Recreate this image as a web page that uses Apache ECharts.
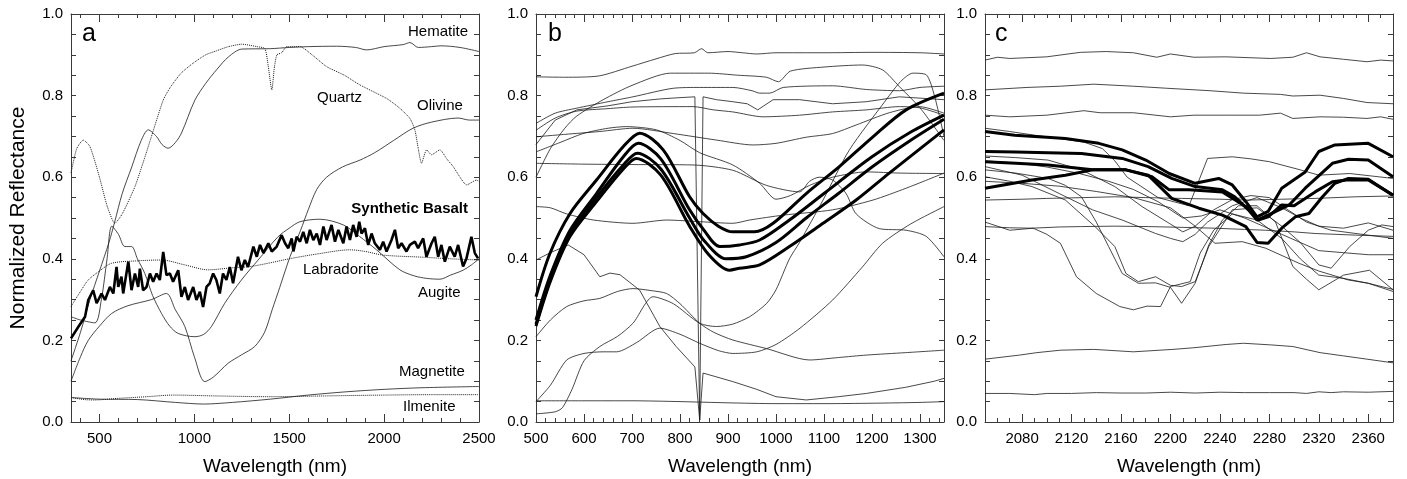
<!DOCTYPE html>
<html><head><meta charset="utf-8">
<script src="https://cdn.jsdelivr.net/npm/echarts@6/dist/echarts.min.js"></script>
<style>html,body{margin:0;padding:0;background:#fff}#chart{width:1407px;height:479px}</style>
</head><body><div id="chart"></div>
<script>
// ---------- tick labels ----------
const aTickLabels = [500, 1000, 1500, 2000, 2500];
const bTickLabels = [500, 600, 700, 800, 900, 1000, 1100, 1200, 1300];
const cTickLabels = [2080, 2120, 2160, 2200, 2240, 2280, 2320, 2360];
const yTickLabels = [0, 0.2, 0.4, 0.6, 0.8, 1.0];

// ---------- panel a ----------
const hematite = [[350,0.15],[400,0.22],[450,0.30],[500,0.37],[550,0.44],[580,0.49],[620,0.56],[670,0.625],[720,0.69],[757,0.716],[800,0.70],[830,0.68],[862,0.671],[900,0.685],[932,0.708],[1003,0.789],[1060,0.83],[1120,0.865],[1180,0.895],[1250,0.914],[1400,0.915],[1500,0.918],[1600,0.92],[1750,0.921],[1850,0.918],[1908,0.912],[2000,0.92],[2100,0.925],[2136,0.93],[2180,0.918],[2250,0.92],[2300,0.922],[2400,0.918],[2500,0.908]];
const quartz = [[350,0.61],[380,0.67],[415,0.691],[450,0.675],[500,0.60],[540,0.53],[581,0.487],[620,0.51],[687,0.577],[740,0.65],[774,0.70],[836,0.789],[873,0.82],[930,0.855],[995,0.88],[1060,0.90],[1118,0.91],[1180,0.92],[1250,0.926],[1330,0.92],[1372,0.915],[1390,0.87],[1408,0.814],[1422,0.87],[1435,0.90],[1460,0.905],[1487,0.92],[1557,0.92],[1620,0.90],[1697,0.871],[1790,0.85],[1873,0.826],[2013,0.793],[2080,0.77],[2136,0.744],[2162,0.716],[2180,0.67],[2197,0.634],[2224,0.667],[2250,0.655],[2294,0.667],[2330,0.645],[2364,0.626],[2400,0.60],[2434,0.581],[2487,0.593],[2500,0.59]];
const olivine = [[350,0.10],[400,0.16],[441,0.20],[500,0.235],[564,0.266],[650,0.285],[774,0.30],[853,0.315],[900,0.275],[950,0.234],[1000,0.16],[1055,0.099],[1100,0.11],[1178,0.144],[1250,0.165],[1318,0.185],[1370,0.22],[1410,0.275],[1450,0.33],[1504,0.405],[1560,0.47],[1600,0.52],[1645,0.57],[1697,0.60],[1780,0.625],[1873,0.642],[1950,0.66],[2050,0.69],[2152,0.72],[2250,0.735],[2390,0.745],[2450,0.74],[2500,0.74]];
const augite = [[350,0.258],[400,0.25],[476,0.243],[510,0.30],[540,0.40],[565,0.48],[600,0.46],[634,0.43],[669,0.43],[700,0.40],[739,0.364],[780,0.31],[827,0.266],[870,0.235],[915,0.217],[1003,0.209],[1050,0.215],[1090,0.234],[1160,0.291],[1248,0.348],[1336,0.397],[1441,0.454],[1500,0.475],[1557,0.491],[1662,0.497],[1785,0.483],[1870,0.455],[1960,0.422],[2083,0.373],[2160,0.358],[2224,0.352],[2294,0.35],[2350,0.36],[2416,0.372],[2460,0.385],[2500,0.40]];
const labradorite = [[350,0.283],[400,0.32],[441,0.348],[500,0.37],[564,0.389],[700,0.395],[827,0.397],[950,0.385],[1072,0.373],[1200,0.378],[1293,0.381],[1388,0.389],[1500,0.40],[1650,0.412],[1820,0.422],[1900,0.418],[1995,0.409],[2200,0.404],[2350,0.40],[2500,0.397]];
const magnetite = [[350,0.06],[500,0.056],[700,0.055],[900,0.048],[1050,0.044],[1200,0.048],[1400,0.056],[1600,0.066],[1800,0.074],[2000,0.08],[2200,0.084],[2500,0.087]];
const ilmenite = [[350,0.06],[420,0.055],[470,0.054],[600,0.058],[750,0.062],[890,0.066],[1100,0.064],[1400,0.062],[1700,0.064],[2000,0.066],[2250,0.067],[2500,0.067]];
const basalt = [[350,0.205],[388,0.233],[424,0.258],[441,0.299],[467,0.323],[485,0.291],[511,0.315],[529,0.299],[555,0.331],[573,0.315],[590,0.38],[599,0.331],[616,0.356],[625,0.315],[652,0.393],[669,0.323],[687,0.364],[704,0.331],[713,0.376],[730,0.323],[748,0.331],[766,0.364],[783,0.344],[801,0.364],[818,0.348],[836,0.417],[853,0.36],[871,0.364],[888,0.344],[915,0.372],[932,0.307],[950,0.331],[967,0.299],[994,0.331],[1011,0.299],[1029,0.319],[1046,0.282],[1064,0.331],[1081,0.34],[1099,0.364],[1116,0.348],[1134,0.315],[1151,0.364],[1169,0.348],[1187,0.38],[1204,0.34],[1230,0.405],[1248,0.372],[1266,0.397],[1283,0.38],[1311,0.43],[1329,0.405],[1346,0.434],[1364,0.414],[1390,0.438],[1408,0.418],[1434,0.43],[1460,0.458],[1478,0.438],[1495,0.426],[1513,0.45],[1522,0.418],[1539,0.454],[1557,0.442],[1574,0.466],[1592,0.438],[1609,0.471],[1627,0.446],[1645,0.462],[1662,0.434],[1680,0.479],[1697,0.446],[1723,0.483],[1741,0.442],[1759,0.471],[1785,0.438],[1802,0.479],[1820,0.446],[1837,0.483],[1855,0.454],[1869,0.491],[1881,0.462],[1899,0.475],[1916,0.434],[1934,0.462],[1951,0.438],[1978,0.422],[1995,0.442],[2013,0.418],[2039,0.446],[2057,0.471],[2074,0.426],[2092,0.438],[2118,0.418],[2136,0.434],[2162,0.442],[2179,0.426],[2206,0.45],[2223,0.405],[2250,0.438],[2267,0.454],[2285,0.405],[2302,0.434],[2320,0.393],[2346,0.43],[2372,0.405],[2390,0.434],[2416,0.381],[2434,0.401],[2460,0.454],[2478,0.414],[2495,0.401]];

// ---------- panel b ----------
const bL1 = [[500,0.846],[560,0.845],[630,0.848],[700,0.872],[750,0.89],[790,0.903],[830,0.905],[845,0.915],[858,0.905],[900,0.908],[930,0.905],[960,0.902],[1000,0.905],[1100,0.905],[1200,0.906],[1300,0.905],[1350,0.902]];
const bL2 = [[500,0.60],[530,0.67],[560,0.72],[585,0.75],[640,0.79],[700,0.825],[780,0.855],[860,0.855],[920,0.85],[980,0.845],[1005,0.834],[1030,0.86],[1100,0.87],[1180,0.875],[1222,0.863],[1257,0.822],[1300,0.77],[1350,0.69]];
const bL3 = [[500,0.732],[540,0.757],[584,0.769],[650,0.785],[702,0.797],[786,0.818],[841,0.82],[910,0.82],[950,0.812],[966,0.806],[987,0.806],[1015,0.82],[1118,0.824],[1188,0.815],[1257,0.812],[1300,0.82],[1350,0.823]];
const bL4 = [[500,0.68],[540,0.74],[585,0.765],[650,0.775],[700,0.785],[760,0.792],[800,0.795],[831,0.797],[841,0.005],[848,0.797],[876,0.79],[910,0.785],[940,0.78],[962,0.765],[994,0.79],[1049,0.79],[1118,0.78],[1188,0.785],[1257,0.797],[1350,0.79]];
const bL5 = [[500,0.715],[540,0.745],[585,0.762],[650,0.768],[700,0.772],[827,0.773],[870,0.765],[910,0.76],[973,0.748],[1049,0.752],[1118,0.76],[1188,0.765],[1257,0.773],[1300,0.77],[1350,0.752]];
const bL6 = [[500,0.699],[560,0.705],[633,0.712],[702,0.72],[786,0.707],[876,0.691],[952,0.679],[1000,0.683],[1063,0.698],[1118,0.707],[1167,0.728],[1236,0.758],[1299,0.773],[1350,0.757]];
const bL7 = [[500,0.662],[550,0.685],[598,0.707],[650,0.72],[688,0.724],[751,0.716],[800,0.69],[841,0.66],[910,0.63],[966,0.585],[1000,0.546],[1030,0.555],[1070,0.58],[1118,0.60],[1188,0.613],[1260,0.61],[1350,0.609]];
const bL8 = [[500,0.634],[600,0.632],[700,0.631],[827,0.63],[910,0.617],[980,0.58],[1049,0.564],[1070,0.59],[1090,0.60],[1118,0.593],[1146,0.56],[1167,0.51],[1215,0.474],[1271,0.47],[1313,0.455],[1350,0.405]];
const bL9 = [[500,0.528],[530,0.525],[564,0.51],[620,0.495],[702,0.487],[772,0.495],[841,0.491],[910,0.487],[945,0.495],[1015,0.507],[1118,0.52],[1202,0.544],[1271,0.573],[1350,0.61]];
const bL10 = [[500,0.209],[530,0.25],[564,0.283],[600,0.297],[633,0.303],[670,0.32],[702,0.327],[740,0.322],[772,0.315],[800,0.29],[841,0.242],[870,0.22],[910,0.201],[980,0.18],[1070,0.152],[1130,0.158],[1188,0.164],[1270,0.17],[1350,0.176]];
const bL11 = [[500,0.05],[530,0.09],[564,0.152],[600,0.168],[640,0.172],[668,0.172],[710,0.195],[758,0.23],[800,0.215],[841,0.193],[880,0.175],[910,0.168],[960,0.172],[1000,0.19],[1050,0.23],[1118,0.299],[1180,0.38],[1222,0.438],[1280,0.485],[1350,0.528]];
const bL12 = [[500,0.02],[540,0.025],[555,0.035],[575,0.08],[600,0.15],[633,0.185],[670,0.21],[702,0.242],[744,0.307],[786,0.29],[841,0.242],[876,0.234],[910,0.24],[945,0.258],[980,0.29],[1000,0.324],[1028,0.40],[1049,0.44],[1098,0.544],[1153,0.667],[1229,0.789],[1260,0.835],[1285,0.855],[1313,0.851],[1330,0.80],[1350,0.70]];
const bL13 = [[500,0.397],[530,0.415],[567,0.434],[600,0.41],[633,0.356],[654,0.365],[675,0.361],[716,0.323],[758,0.234],[792,0.185],[831,0.135],[841,0.005],[848,0.12],[910,0.099],[960,0.08],[1000,0.062],[1063,0.054],[1130,0.062],[1188,0.07],[1270,0.085],[1330,0.10],[1350,0.107]];
const bL14 = [[500,0.052],[600,0.052],[700,0.052],[800,0.05],[900,0.047],[1000,0.045],[1100,0.045],[1200,0.046],[1300,0.048],[1350,0.05]];
const bT1 = [[500,0.307],[529,0.413],[571,0.511],[626,0.593],[682,0.675],[716,0.708],[765,0.667],[820,0.552],[848,0.511],[880,0.48],[910,0.466],[955,0.466],[994,0.487],[1063,0.56],[1132,0.626],[1202,0.699],[1271,0.765],[1350,0.806]];
const bT2 = [[500,0.25],[530,0.36],[571,0.47],[626,0.56],[682,0.65],[713,0.683],[760,0.645],[820,0.52],[850,0.47],[883,0.43],[924,0.434],[966,0.446],[1028,0.495],[1100,0.56],[1200,0.65],[1280,0.71],[1350,0.752]];
const bT3 = [[500,0.24],[530,0.35],[571,0.46],[626,0.55],[682,0.63],[711,0.659],[760,0.62],[820,0.50],[850,0.445],[896,0.40],[938,0.405],[1000,0.44],[1063,0.50],[1130,0.56],[1200,0.625],[1280,0.69],[1350,0.742]];
const bT4 = [[500,0.235],[530,0.345],[571,0.455],[626,0.54],[682,0.62],[709,0.646],[760,0.605],[820,0.48],[860,0.41],[903,0.372],[924,0.377],[966,0.385],[1028,0.43],[1098,0.487],[1167,0.544],[1236,0.61],[1350,0.716]];

// ---------- panel c ----------
const cL1 = [[2050,0.887],[2060,0.894],[2070,0.891],[2100,0.895],[2127,0.906],[2148,0.908],[2170,0.905],[2189,0.894],[2200,0.902],[2219,0.894],[2245,0.895],[2281,0.891],[2299,0.894],[2310,0.905],[2321,0.895],[2340,0.889],[2359,0.883],[2370,0.887],[2380,0.885]];
const cL2 = [[2050,0.814],[2084,0.82],[2111,0.823],[2138,0.828],[2170,0.823],[2197,0.818],[2232,0.812],[2259,0.806],[2289,0.803],[2299,0.799],[2321,0.801],[2340,0.793],[2359,0.783],[2380,0.78]];
const cL3 = [[2050,0.752],[2070,0.748],[2100,0.752],[2130,0.763],[2143,0.758],[2170,0.758],[2200,0.748],[2219,0.752],[2245,0.752],[2272,0.752],[2289,0.757],[2299,0.744],[2321,0.748],[2340,0.747],[2359,0.744],[2370,0.748],[2380,0.742]];
const cL4 = [[2050,0.154],[2078,0.164],[2092,0.17],[2111,0.176],[2138,0.178],[2170,0.172],[2202,0.178],[2219,0.182],[2245,0.19],[2259,0.193],[2281,0.189],[2299,0.185],[2321,0.17],[2340,0.162],[2359,0.154],[2380,0.145]];
const cL5 = [[2050,0.07],[2070,0.07],[2090,0.067],[2100,0.07],[2120,0.07],[2140,0.072],[2160,0.071],[2180,0.071],[2200,0.073],[2220,0.071],[2240,0.073],[2260,0.072],[2280,0.072],[2300,0.072],[2310,0.07],[2320,0.074],[2330,0.072],[2340,0.074],[2360,0.073],[2380,0.075]];
const cA = [[2050,0.72],[2070,0.712],[2090,0.703],[2110,0.695],[2130,0.686],[2145,0.67],[2155,0.64],[2165,0.60],[2190,0.55],[2215,0.53],[2230,0.646],[2250,0.65],[2265,0.645],[2280,0.638],[2305,0.618],[2320,0.605],[2345,0.609],[2380,0.597]];
const cB = [[2050,0.652],[2075,0.648],[2101,0.642],[2128,0.618],[2155,0.577],[2177,0.528],[2199,0.487],[2210,0.466],[2220,0.48],[2235,0.52],[2250,0.545],[2265,0.555],[2280,0.55],[2295,0.52],[2310,0.49],[2330,0.47],[2360,0.458],[2380,0.45]];
const cC = [[2050,0.626],[2080,0.605],[2110,0.56],[2137,0.52],[2161,0.495],[2188,0.462],[2200,0.45],[2210,0.442],[2220,0.46],[2230,0.49],[2250,0.53],[2270,0.55],[2290,0.525],[2305,0.50],[2320,0.48],[2340,0.475],[2360,0.488],[2380,0.47]];
const cD = [[2050,0.601],[2070,0.59],[2088,0.577],[2115,0.544],[2139,0.479],[2155,0.43],[2164,0.364],[2174,0.344],[2188,0.356],[2200,0.335],[2209,0.332],[2220,0.344],[2231,0.43],[2250,0.52],[2270,0.525],[2290,0.48],[2305,0.44],[2320,0.385],[2330,0.377],[2345,0.43],[2360,0.47],[2371,0.483],[2380,0.479]];
const cE = [[2050,0.544],[2080,0.546],[2100,0.548],[2130,0.55],[2155,0.552],[2180,0.55],[2209,0.548],[2240,0.546],[2263,0.544],[2290,0.546],[2317,0.548],[2350,0.552],[2380,0.554]];
const cF = [[2050,0.479],[2070,0.476],[2088,0.475],[2110,0.478],[2128,0.479],[2155,0.48],[2182,0.479],[2210,0.477],[2236,0.475],[2260,0.472],[2277,0.47],[2300,0.466],[2317,0.462],[2350,0.458],[2380,0.455]];
const cG = [[2050,0.49],[2060,0.48],[2070,0.47],[2089,0.475],[2100,0.46],[2111,0.438],[2124,0.356],[2140,0.315],[2159,0.283],[2170,0.275],[2181,0.284],[2192,0.283],[2200,0.332],[2216,0.344],[2224,0.414],[2235,0.47],[2250,0.51],[2270,0.495],[2290,0.45],[2305,0.40],[2320,0.36],[2340,0.352],[2360,0.34],[2380,0.325]];
const cH = [[2050,0.618],[2075,0.61],[2101,0.597],[2115,0.58],[2128,0.552],[2140,0.49],[2150,0.43],[2161,0.364],[2174,0.34],[2188,0.341],[2200,0.33],[2209,0.291],[2220,0.34],[2231,0.434],[2242,0.495],[2255,0.53],[2270,0.53],[2285,0.49],[2299,0.381],[2310,0.35],[2320,0.324],[2340,0.36],[2361,0.372],[2380,0.324]];
const cI = [[2050,0.64],[2075,0.635],[2100,0.625],[2125,0.61],[2150,0.59],[2170,0.57],[2190,0.54],[2210,0.50],[2225,0.505],[2240,0.52],[2260,0.50],[2275,0.48],[2290,0.46],[2305,0.44],[2320,0.42],[2340,0.415],[2360,0.41],[2380,0.41]];
const cJ = [[2050,0.59],[2080,0.585],[2110,0.578],[2140,0.565],[2170,0.55],[2200,0.525],[2220,0.48],[2236,0.438],[2258,0.442],[2277,0.426],[2304,0.389],[2320,0.37],[2344,0.348],[2360,0.34],[2380,0.32]];
const cT1 = [[2050,0.712],[2074,0.703],[2100,0.698],[2115,0.695],[2142,0.683],[2161,0.667],[2180,0.642],[2199,0.609],[2220,0.585],[2239,0.597],[2250,0.581],[2261,0.54],[2270,0.503],[2279,0.516],[2290,0.573],[2309,0.613],[2320,0.663],[2333,0.679],[2360,0.683],[2380,0.65]];
const cT2 = [[2050,0.663],[2075,0.662],[2101,0.66],[2128,0.658],[2161,0.646],[2182,0.626],[2201,0.597],[2220,0.577],[2242,0.569],[2252,0.552],[2263,0.52],[2270,0.495],[2279,0.507],[2296,0.532],[2309,0.573],[2331,0.634],[2344,0.644],[2360,0.642],[2380,0.601]];
const cT3 = [[2050,0.638],[2075,0.634],[2101,0.63],[2137,0.618],[2164,0.618],[2185,0.601],[2199,0.569],[2215,0.569],[2242,0.564],[2263,0.524],[2271,0.495],[2279,0.503],[2290,0.532],[2300,0.53],[2317,0.564],[2331,0.589],[2344,0.594],[2360,0.593],[2380,0.556]];
const cT4 = [[2050,0.573],[2088,0.593],[2115,0.605],[2137,0.618],[2164,0.618],[2182,0.605],[2201,0.548],[2223,0.524],[2242,0.507],[2261,0.479],[2270,0.44],[2279,0.438],[2290,0.475],[2301,0.503],[2312,0.511],[2323,0.552],[2333,0.585],[2344,0.597],[2360,0.595],[2380,0.556]];

// ---------- build ----------
const FONT = '"Liberation Sans", Arial, Helvetica, sans-serif';
const AX = '#3a3a3a';
function range(a, b, s) { const r = []; for (let v = a; v <= b + 1e-9; v += s) r.push(+v.toFixed(4)); return r; }

const panels = [
  { left: 71, min: 350, max: 2500, labels: aTickLabels, minor: range(400, 2500, 100) },
  { left: 536, min: 500, max: 1350, labels: bTickLabels, minor: range(500, 1340, 20) },
  { left: 985, min: 2050, max: 2380, labels: cTickLabels, minor: range(2050, 2380, 10) }
];
const yMinor = range(0, 1, 0.05);

const grid = [], xAxis = [], yAxis = [], series = [];
panels.forEach((p, i) => {
  grid.push({ left: p.left, top: 14, width: 408, height: 408 });
  const base = { gridIndex: i, type: 'value', min: p.min, max: p.max, splitLine: { show: false } };
  const line = { show: true, onZero: false, lineStyle: { color: AX, width: 1 } };
  xAxis.push(Object.assign({}, base, { position: 'bottom', axisLine: line,
    axisTick: { show: true, inside: true, length: 8, customValues: p.labels, lineStyle: { color: AX } },
    axisLabel: { show: true, customValues: p.labels, margin: 9, color: '#000', fontSize: 15, fontFamily: FONT, formatter: v => String(v) } }));
  xAxis.push(Object.assign({}, base, { position: 'bottom', axisLine: { show: false, onZero: false },
    axisTick: { show: true, inside: true, length: 4, customValues: p.minor, lineStyle: { color: AX } }, axisLabel: { show: false } }));
  xAxis.push(Object.assign({}, base, { position: 'top', axisLine: line,
    axisTick: { show: true, inside: true, length: 8, customValues: p.labels, lineStyle: { color: AX } }, axisLabel: { show: false } }));
  xAxis.push(Object.assign({}, base, { position: 'top', axisLine: { show: false, onZero: false },
    axisTick: { show: true, inside: true, length: 4, customValues: p.minor, lineStyle: { color: AX } }, axisLabel: { show: false } }));
  const yb = { gridIndex: i, type: 'value', min: 0, max: 1, splitLine: { show: false } };
  yAxis.push(Object.assign({}, yb, { position: 'left', axisLine: line,
    axisTick: { show: true, inside: true, length: 5, customValues: yMinor, lineStyle: { color: AX } },
    axisLabel: { show: true, customValues: yTickLabels, margin: 8, color: '#000', fontSize: 15, fontFamily: FONT, formatter: v => v.toFixed(1) } }));
  yAxis.push(Object.assign({}, yb, { position: 'right', axisLine: line,
    axisTick: { show: true, inside: true, length: 5, customValues: yMinor, lineStyle: { color: AX } }, axisLabel: { show: false } }));
});

function addLine(panel, data, opt) {
  opt = opt || {};
  series.push({
    type: 'line', xAxisIndex: panel * 4, yAxisIndex: panel * 2, data: data,
    showSymbol: false, symbol: 'none', silent: true, animation: false, clip: true,
    smooth: opt.smooth || false, z: opt.thick ? 4 : 2,
    lineStyle: { color: opt.color || '#1a1a1a', width: opt.width || 0.8, type: opt.type || 'solid' }
  });
}
// panel a
addLine(0, hematite, { smooth: 0.3 });
addLine(0, quartz, { smooth: 0.2, type: 'dotted', width: 1 });
addLine(0, olivine, { smooth: 0.3 });
addLine(0, augite, { smooth: 0.3 });
addLine(0, labradorite, { smooth: 0.3, type: 'dotted', width: 1 });
addLine(0, magnetite, { smooth: 0.3 });
addLine(0, ilmenite, { smooth: 0.3, type: 'dotted', width: 1 });
addLine(0, basalt, { thick: true, width: 2.6, color: '#000' });
// panel b
[bL1, bL2, bL3, bL5, bL6, bL7, bL8, bL9, bL10, bL11, bL12, bL14].forEach(d => addLine(1, d, { smooth: 0.25 }));
[bL4, bL13].forEach(d => addLine(1, d));
[bT1, bT2, bT3, bT4].forEach(d => addLine(1, d, { thick: true, width: 3, color: '#000', smooth: 0.3 }));
// panel c
[cL1, cL2, cL3, cL4, cL5, cA, cB, cC, cD, cE, cF, cG, cH, cI, cJ].forEach(d => addLine(2, d));
[cT1, cT2, cT3, cT4].forEach(d => addLine(2, d, { thick: true, width: 3, color: '#000' }));

function txt(x, y, text, o) {
  o = o || {};
  return { type: 'text', x: x, y: y, rotation: o.rot || 0, silent: true, z: 10,
    style: { text: text, fill: '#000', fontSize: o.size || 15, fontFamily: FONT, fontWeight: o.bold ? 'bold' : 'normal',
      align: o.align || 'left', verticalAlign: o.va || 'middle', textAlign: o.align || 'left', textVerticalAlign: o.va || 'middle' } };
}
const graphic = [
  txt(18, 218, 'Normalized Reflectance', { rot: Math.PI / 2, align: 'center', size: 21 }),
  txt(275, 467, 'Wavelength (nm)', { align: 'center', size: 19 }),
  txt(740, 467, 'Wavelength (nm)', { align: 'center', size: 19 }),
  txt(1189, 467, 'Wavelength (nm)', { align: 'center', size: 19 }),
  txt(82, 34, 'a', { size: 25 }),
  txt(548, 34, 'b', { size: 25 }),
  txt(995, 34, 'c', { size: 25 }),
  txt(468, 32, 'Hematite', { align: 'right' }),
  txt(317, 98, 'Quartz'),
  txt(417, 106, 'Olivine'),
  txt(468, 209, 'Synthetic Basalt', { align: 'right', bold: true }),
  txt(303, 270, 'Labradorite'),
  txt(418, 293, 'Augite'),
  txt(399, 372, 'Magnetite'),
  txt(403, 407, 'Ilmenite')
];

const chart = echarts.init(document.getElementById('chart'), null, { renderer: 'canvas' });
chart.setOption({ animation: false, backgroundColor: '#fff', grid, xAxis, yAxis, series, graphic });
</script></body></html>
